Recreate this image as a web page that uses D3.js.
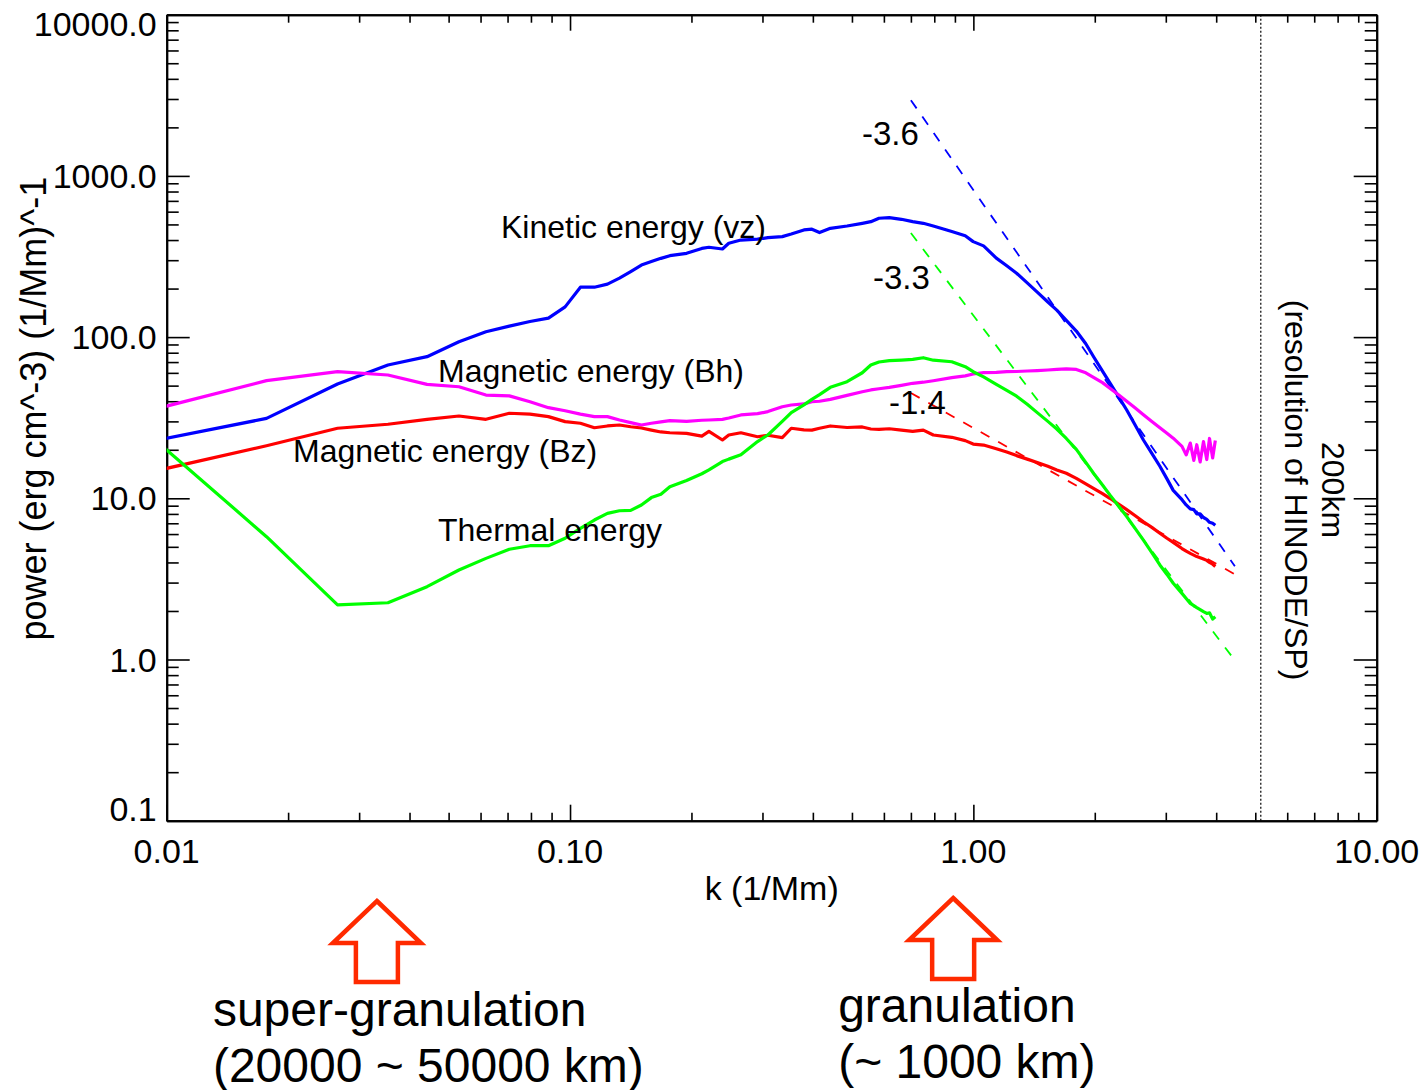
<!DOCTYPE html>
<html>
<head>
<meta charset="utf-8">
<script src="https://cdn.jsdelivr.net/npm/d3@7"></script>
<style>
  html, body { margin: 0; padding: 0; background: #ffffff; }
  svg { display: block; font-family: "Liberation Sans", Arial, Helvetica, sans-serif; }
</style>
</head>
<body>
<svg id="chart" width="1423" height="1090"></svg>
<script>
// Horizontal wavenumber k (1/Mm) at which the spectra are sampled
const wavenumber = [
  0.00884, 0.01768, 0.02652, 0.03536, 0.0442, 0.05304, 0.06188, 0.07072, 0.07956, 0.0884,
  0.09724, 0.1061, 0.1149, 0.1238, 0.1326, 0.1414, 0.1503, 0.1591, 0.168, 0.1768,
  0.1945, 0.2122, 0.221, 0.2387, 0.2475, 0.2652, 0.2917, 0.3094, 0.3359, 0.3536,
  0.3801, 0.3978, 0.4155, 0.442, 0.4862, 0.5304, 0.5569, 0.5834, 0.6188, 0.663,
  0.7072, 0.7514, 0.7956, 0.884, 0.9547, 0.9989,
  1.06, 1.14, 1.21, 1.28, 1.36, 1.44, 1.53, 1.61, 1.70, 1.80,
  1.90, 1.99, 2.09, 2.18, 2.29, 2.40, 2.52, 2.64, 2.77, 2.90,
  3.02, 3.13, 3.29, 3.37, 3.45, 3.52, 3.58, 3.65, 3.72, 3.79,
  3.85, 3.92, 3.98
];

// Power spectra, erg cm^-3 (1/Mm)^-1
const kineticVz = [
  22.2, 31.3, 51.2, 67.1, 75.6, 93.6, 108, 117, 125, 131,
  154, 204, 204, 213, 232, 255, 280, 294, 308, 320,
  331, 355, 361, 352, 382, 400, 405, 414, 420, 436,
  462, 467, 445, 473, 489, 508, 520, 546, 551, 538,
  520, 508, 489, 452, 425, 391,
  368, 309, 277, 249, 217, 190, 165, 147, 127, 109,
  91, 75, 61.5, 52, 42.7, 35.3, 28.4, 23.0, 19.0, 15.8,
  13.2, 11.2, 9.8, 9.1, 8.6, 8.5, 8.0, 8.0, 7.6, 7.4,
  7.1, 7.0, 6.8
];

const magneticBh = [
  34.5, 53.7, 61.0, 58.2, 50.9, 49.2, 43.7, 43.2, 39.7, 36.5,
  34.9, 33.3, 32.1, 32.1, 30.6, 29.5, 28.5, 29.2, 29.8, 30.3,
  30.0, 30.5, 30.6, 30.9, 31.5, 32.9, 33.5, 34.5, 37.0, 37.9,
  38.5, 39.7, 40.0, 41.1, 43.5, 45.8, 47.0, 47.8, 48.8, 50.2,
  51.7, 52.5, 53.6, 56.0, 57.5, 59.0,
  60.2, 60.5, 61.0, 61.2, 61.6, 62.0, 62.5, 63.0, 63.6, 63.0,
  60.0, 56.0, 52.2, 48.2, 43.9, 40.0, 36.3, 33.0, 30.0, 27.4,
  25.3, 23.6, 21.0, 18.6, 22.0, 17.2, 21.5, 16.8, 22.5, 17.4,
  23.5, 17.8, 22.8
];

const magneticBz = [
  14.3, 21.2, 27.2, 28.8, 30.9, 32.4, 30.9, 33.7, 33.3, 32.1,
  29.9, 29.2, 27.4, 28.1, 28.5, 27.8, 27.3, 26.5, 25.8, 25.5,
  25.3, 24.3, 26.0, 23.0, 24.7, 25.5, 24.1, 24.6, 23.8, 27.2,
  26.6, 26.5, 27.2, 28.1, 27.5, 27.7, 26.9, 26.8, 27.0, 26.5,
  26.0, 26.5, 24.7, 23.9, 22.8, 21.7,
  21.4, 20.3, 19.4, 18.4, 17.5, 16.7, 15.8, 15.0, 14.3, 13.3,
  12.3, 11.5, 10.7, 10.0, 9.2, 8.5, 7.8, 7.15, 6.6, 6.07,
  5.65, 5.33, 4.88, 4.70, 4.55, 4.44, 4.35, 4.28, 4.20, 4.12,
  4.0, 3.9, 3.78
];

const thermal = [
  26.1, 5.78, 2.18, 2.25, 2.83, 3.59, 4.24, 4.83, 5.08, 5.08,
  5.65, 6.51, 7.33, 8.07, 8.37, 8.42, 9.08, 10.1, 10.6, 11.8,
  12.9, 14.2, 15.0, 16.9, 17.5, 18.6, 22.5, 24.7, 30.0, 34.0,
  38.0, 41.1, 44.0, 48.8, 52.9, 60.1, 67.1, 70.1, 71.4, 72.0,
  72.8, 74.5, 71.9, 70.3, 65.5, 61.0,
  56.6, 50.9, 46.7, 43.0, 38.3, 34.0, 30.0, 26.9, 23.5, 20.1,
  16.7, 14.2, 12.1, 10.5, 8.97, 7.7, 6.49, 5.5, 4.6, 3.86,
  3.37, 2.97, 2.57, 2.39, 2.23, 2.16, 2.10, 2.04, 1.98, 1.93,
  1.95, 1.78, 1.84
];

// Power-law fits: slope, power at the start wavenumber, end wavenumber
const fitSlope = [-3.6, -3.3, -1.4];
const fitStartK = 0.70;
const fitStartPower = [2950, 442, 45.0];
const fitEndK = [4.45, 4.40, 4.45];
const fitLabels = ["-3.6", "-3.3", "-1.4"];

// Axis ticks
const xTickValues = [0.01, 0.1, 1, 10];
const xTickLabels = ["0.01", "0.10", "1.00", "10.00"];
const yTickValues = [0.1, 1, 10, 100, 1000, 10000];
const yTickLabels = ["0.1", "1.0", "10.0", "100.0", "1000.0", "10000.0"];

// Instrument resolution limit (200 km) and scale markers
const resolutionK = 5.16;
const scaleMarkK = [0.0332, 0.891];
const scaleMarkText = [
  ["super-granulation", "(20000 ~ 50000 km)"],
  ["granulation", "(~ 1000 km)"]
];

// ---------------------------------------------------------------
const svg = d3.select("#chart");
const W = 1423, H = 1090;
const plot = { left: 166.7, right: 1376.7, top: 14.7, bottom: 820.7 };

const x = d3.scaleLog().domain([0.01, 10]).range([plot.left, plot.right]);
const y = d3.scaleLog().domain([0.1, 10000]).range([plot.bottom, plot.top]);

svg.append("rect").attr("width", W).attr("height", H).attr("fill", "#ffffff");

svg.append("defs").append("clipPath").attr("id", "plot-clip")
  .append("rect")
  .attr("x", plot.left).attr("y", plot.top)
  .attr("width", plot.right - plot.left).attr("height", plot.bottom - plot.top);

// minor tick positions (2..9 within each decade)
function minorTicks(lo, hi) {
  const out = [];
  for (let d = lo; d < hi * 0.999; d *= 10) {
    for (let m = 2; m <= 9; m++) out.push(d * m);
  }
  return out;
}
const xMinor = minorTicks(0.01, 10);
const yMinor = minorTicks(0.1, 10000);

const axisStroke = 2;
function styleAxis(g) {
  g.select(".domain").attr("stroke", "#000").attr("stroke-width", axisStroke);
  g.selectAll(".tick line").attr("stroke", "#000").attr("stroke-width", 1.6);
  g.selectAll(".tick text").remove();
}

// bottom & top axes
[[plot.bottom, d3.axisBottom], [plot.top, d3.axisTop]].forEach(([yy, gen]) => {
  svg.append("g").attr("transform", `translate(0,${yy})`)
    .call(gen(x).tickValues(xTickValues).tickSize(-16).tickSizeOuter(0).tickFormat(""))
    .call(styleAxis);
  svg.append("g").attr("transform", `translate(0,${yy})`)
    .call(gen(x).tickValues(xMinor).tickSize(-8).tickSizeOuter(0).tickFormat(""))
    .call(styleAxis);
});
// left & right axes
[[plot.left, d3.axisLeft], [plot.right, d3.axisRight]].forEach(([xx, gen]) => {
  svg.append("g").attr("transform", `translate(${xx},0)`)
    .call(gen(y).tickValues(yTickValues).tickSize(-23).tickSizeOuter(0).tickFormat(""))
    .call(styleAxis);
  svg.append("g").attr("transform", `translate(${xx},0)`)
    .call(gen(y).tickValues(yMinor).tickSize(-12).tickSizeOuter(0).tickFormat(""))
    .call(styleAxis);
});

// tick labels
svg.append("g").selectAll("text").data(xTickValues).join("text")
  .attr("x", d => x(d)).attr("y", plot.bottom + 42)
  .attr("text-anchor", "middle").attr("font-size", 34).attr("fill", "#000")
  .text((d, i) => xTickLabels[i]);

svg.append("g").selectAll("text").data(yTickValues).join("text")
  .attr("x", plot.left - 10)
  .attr("y", (d, i) => {
    if (i === 0) return y(d);                           // bottom label sits above the corner
    if (i === yTickValues.length - 1) return y(d) + 21; // top label sits below the corner
    return y(d) + 12;
  })
  .attr("text-anchor", "end").attr("font-size", 34).attr("fill", "#000")
  .text((d, i) => yTickLabels[i]);

// axis titles
svg.append("text")
  .attr("x", (plot.left + plot.right) / 2).attr("y", 900)
  .attr("text-anchor", "middle").attr("font-size", 34).attr("fill", "#000")
  .text("k (1/Mm)");
svg.append("text")
  .attr("transform", `translate(46,${(plot.top + plot.bottom) / 2 - 9}) rotate(-90)`)
  .attr("text-anchor", "middle").attr("font-size", 36).attr("fill", "#000")
  .text("power (erg cm^-3) (1/Mm)^-1");

// resolution limit
svg.append("line")
  .attr("x1", x(resolutionK)).attr("x2", x(resolutionK))
  .attr("y1", plot.top).attr("y2", plot.bottom)
  .attr("stroke", "#000").attr("stroke-width", 1.2).attr("stroke-dasharray", "2,2");
svg.append("text")
  .attr("transform", `translate(1322,490) rotate(90)`)
  .attr("text-anchor", "middle").attr("font-size", 32).attr("fill", "#000")
  .text("200km");
svg.append("text")
  .attr("transform", `translate(1285,490) rotate(90)`)
  .attr("text-anchor", "middle").attr("font-size", 32).attr("fill", "#000")
  .text("(resolution of HINODE/SP)");

// spectra
const series = [
  { name: "Kinetic energy (vz)", values: kineticVz, color: "#0000ff", lx: 501, ly: 238 },
  { name: "Magnetic energy (Bh)", values: magneticBh, color: "#ff00ff", lx: 438, ly: 382 },
  { name: "Magnetic energy (Bz)", values: magneticBz, color: "#ff0000", lx: 293, ly: 462 },
  { name: "Thermal energy", values: thermal, color: "#00ff00", lx: 438, ly: 541 }
];

const line = d3.line().x(d => x(d[0])).y(d => y(d[1]));
const gLines = svg.append("g").attr("clip-path", "url(#plot-clip)");

// fitted power laws (dashed)
const fitColors = ["#0000ff", "#00ff00", "#ff0000"];
fitSlope.forEach((s, i) => {
  const p0 = fitStartPower[i];
  const p1 = p0 * Math.pow(fitEndK[i] / fitStartK, s);
  gLines.append("path")
    .attr("d", line([[fitStartK, p0], [fitEndK[i], p1]]))
    .attr("fill", "none").attr("stroke", fitColors[i])
    .attr("stroke-width", 1.8).attr("stroke-dasharray", "10,10");
});

series.forEach(s => {
  gLines.append("path")
    .attr("d", line(wavenumber.map((k, i) => [k, s.values[i]])))
    .attr("fill", "none").attr("stroke", s.color)
    .attr("stroke-width", 3.2).attr("stroke-linejoin", "round");
});

// curve labels
svg.append("g").selectAll("text").data(series).join("text")
  .attr("x", d => d.lx).attr("y", d => d.ly)
  .attr("font-size", 32).attr("fill", "#000")
  .text(d => d.name);

// slope labels
const slopeLabelPos = [[862, 145], [873, 289], [889, 414]];
svg.append("g").selectAll("text").data(fitLabels).join("text")
  .attr("x", (d, i) => slopeLabelPos[i][0]).attr("y", (d, i) => slopeLabelPos[i][1])
  .attr("font-size", 33).attr("fill", "#000")
  .text(d => d);

// scale markers: outlined arrows with captions
const arrowColor = "#ff2a00";
const textOffset = [-164, -115];
const arrowTop = [901, 898];
const captionBase = [1026, 1022];
scaleMarkK.forEach((k, i) => {
  const cx = x(k), t = arrowTop[i];
  const hw = 44, sw = 21, hh = 42, len = 81;
  const pts = [
    [cx, t], [cx + hw, t + hh], [cx + sw, t + hh], [cx + sw, t + len],
    [cx - sw, t + len], [cx - sw, t + hh], [cx - hw, t + hh]
  ];
  svg.append("path")
    .attr("d", d3.line()(pts) + "Z")
    .attr("fill", "#ffffff").attr("stroke", arrowColor)
    .attr("stroke-width", 4.5).attr("stroke-linejoin", "miter");
  scaleMarkText[i].forEach((txt, j) => {
    svg.append("text")
      .attr("x", cx + textOffset[i]).attr("y", captionBase[i] + j * 56)
      .attr("font-size", 48).attr("fill", "#000")
      .text(txt);
  });
});
</script>
</body>
</html>
